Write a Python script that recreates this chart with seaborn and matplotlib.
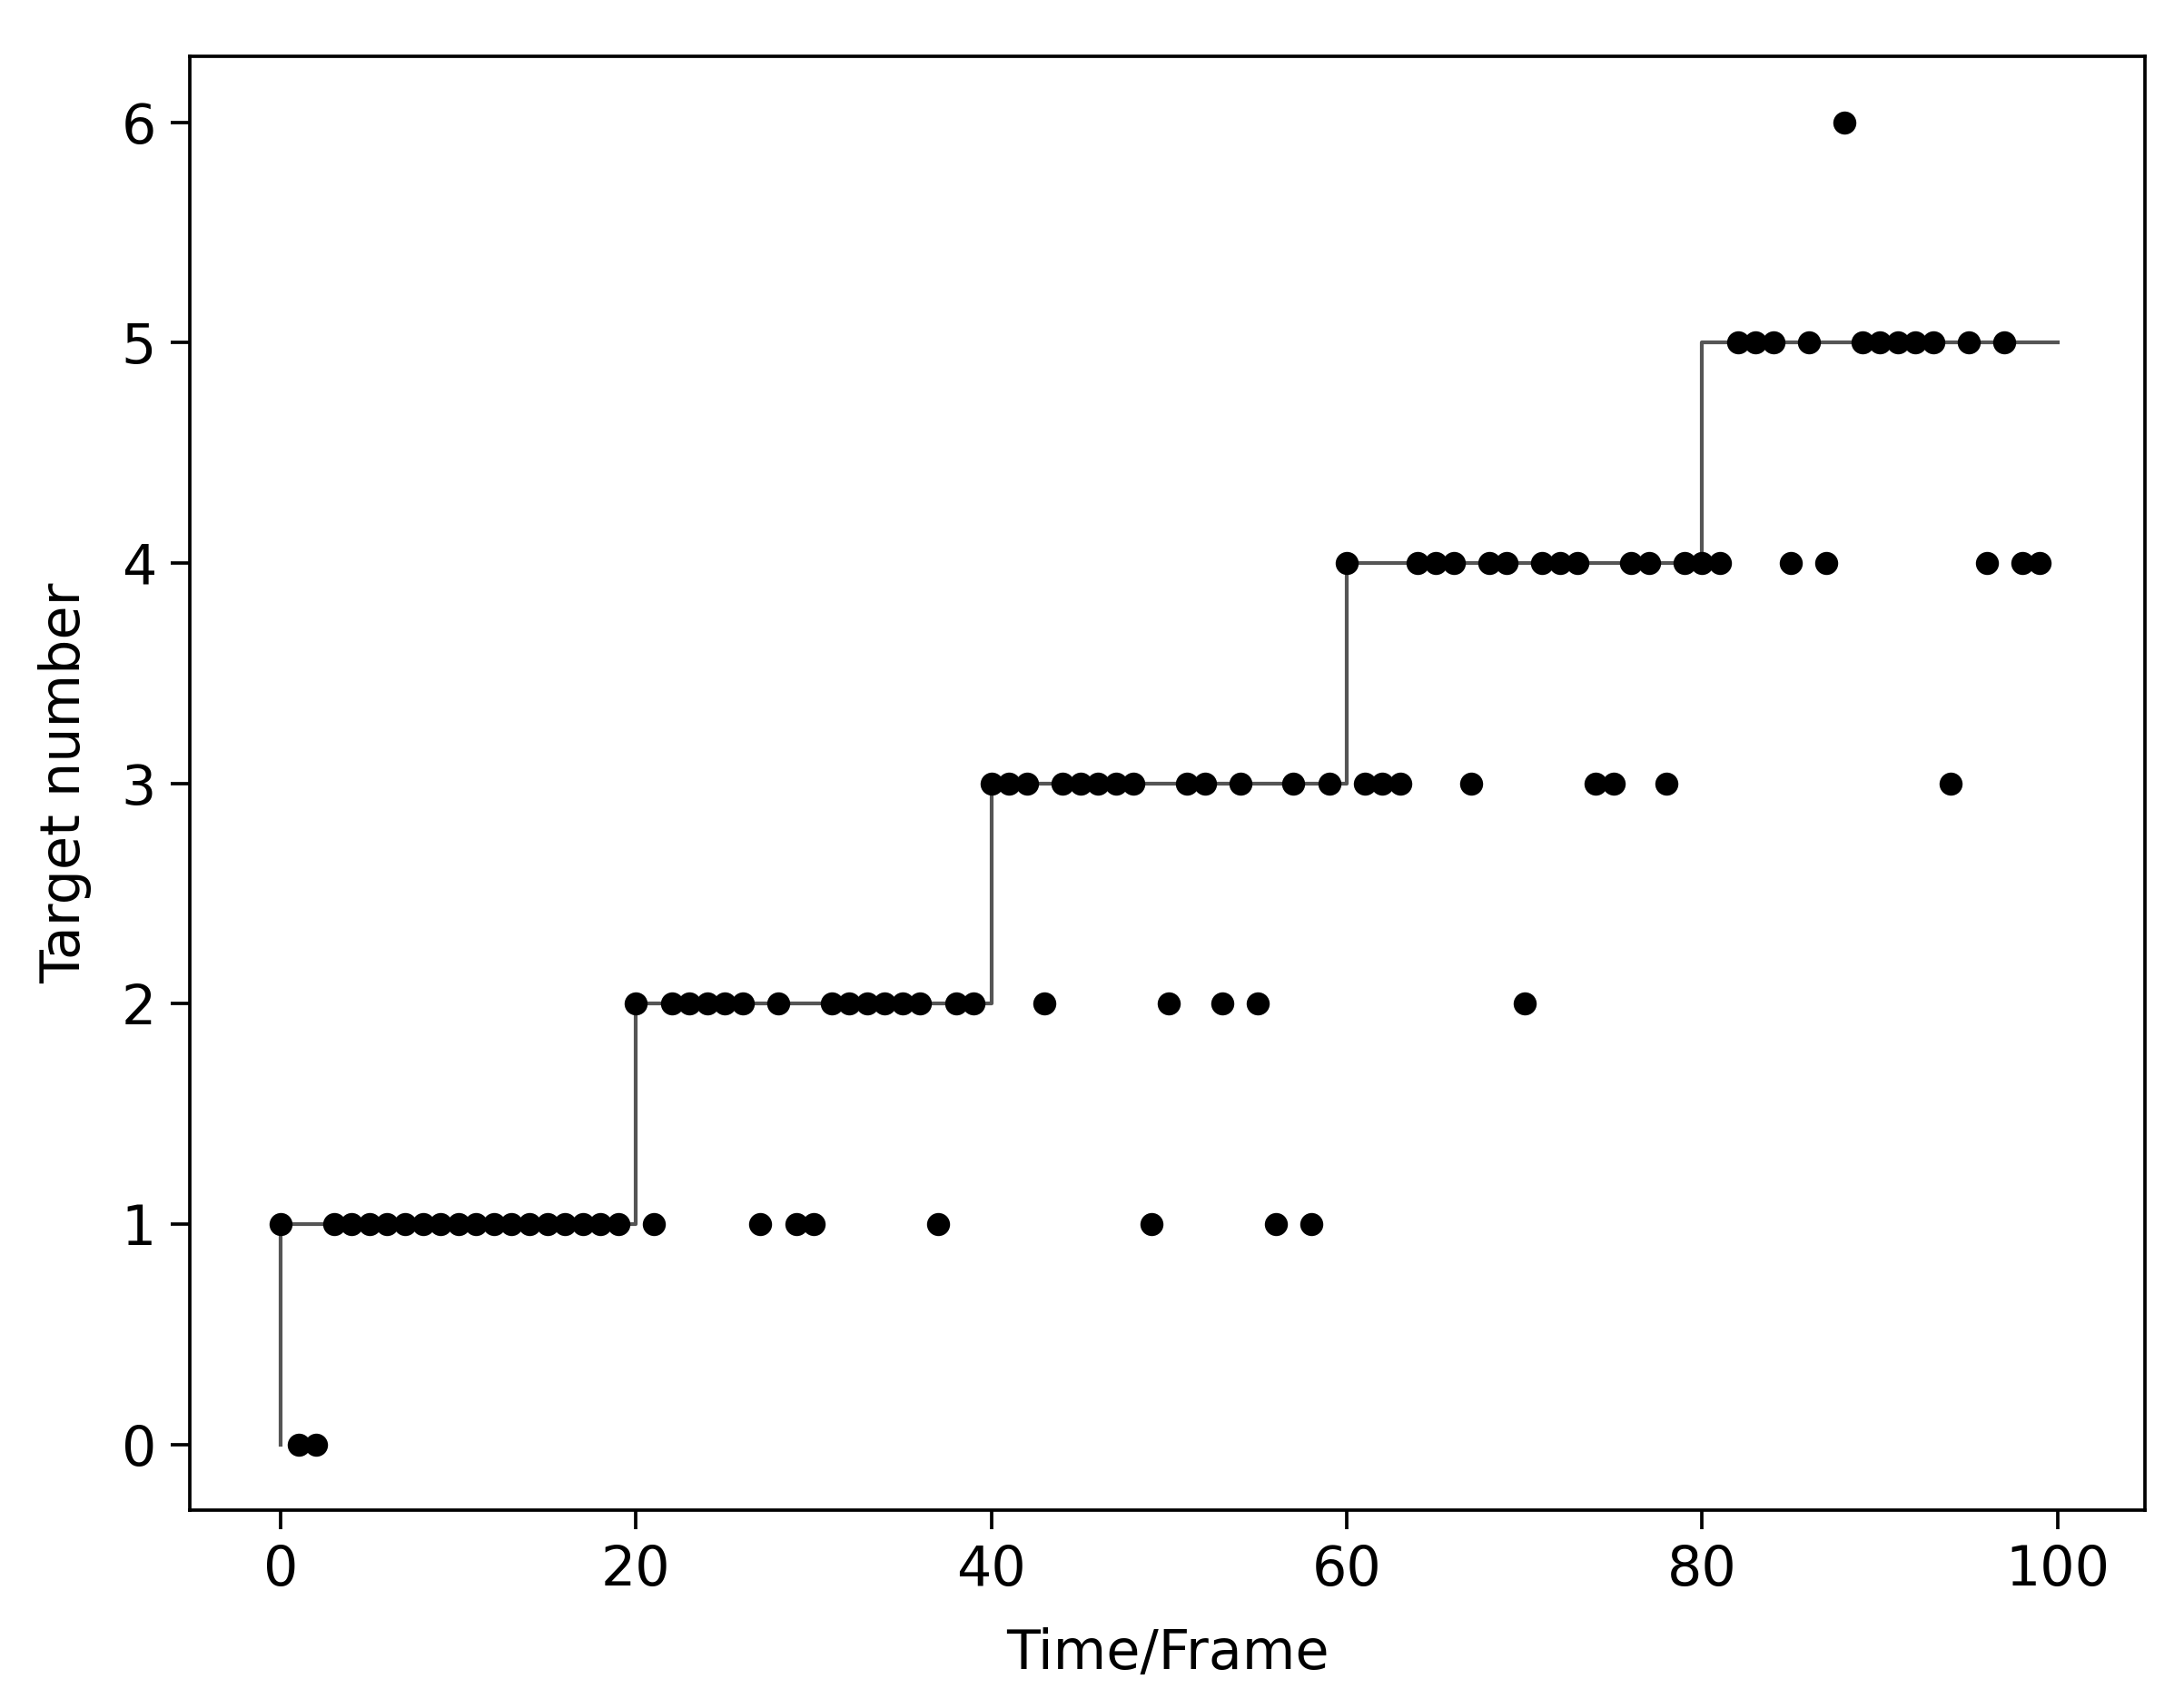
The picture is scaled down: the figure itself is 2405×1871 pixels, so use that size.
import seaborn as sns
import matplotlib.pyplot as plt
import pandas as pd

# estimated target number per frame (frames 0..99)
frames = list(range(100))
estimated = [
    1, 0, 0, 1, 1, 1, 1, 1, 1, 1,        # 0-9
    1, 1, 1, 1, 1, 1, 1, 1, 1, 1,        # 10-19
    2, 1, 2, 2, 2, 2, 2, 1, 2, 1,        # 20-29
    1, 2, 2, 2, 2, 2, 2, 1, 2, 2,        # 30-39
    3, 3, 3, 2, 3, 3, 3, 3, 3, 1,        # 40-49
    2, 3, 3, 2, 3, 2, 1, 3, 1, 3,        # 50-59
    4, 3, 3, 3, 4, 4, 4, 3, 4, 4,        # 60-69
    2, 4, 4, 4, 3, 3, 4, 4, 3, 4,        # 70-79
    4, 4, 5, 5, 5, 4, 5, 4, 6, 5,        # 80-89
    5, 5, 5, 5, 3, 5, 4, 5, 4, 4,        # 90-99
]

# ground truth steps
gt_frames = [0, 0, 20, 40, 60, 80, 100]
gt_counts = [0, 1, 2, 3, 4, 5, 5]

dpi = 334
fig = plt.figure(figsize=(2405 / dpi, 1871 / dpi), dpi=dpi)
ax = fig.add_axes([0.087, 0.111, 0.895, 0.856])

truth = pd.DataFrame({'frame': gt_frames, 'count': gt_counts})
sns.lineplot(data=truth, x='frame', y='count', estimator=None, sort=False,
             drawstyle='steps-post', color='#555555', linewidth=0.9, ax=ax)

est = pd.DataFrame({'frame': frames, 'count': estimated})
sns.scatterplot(data=est, x='frame', y='count', color='black', s=30,
                linewidth=0, ax=ax, zorder=3)

ax.set_xticks([0, 20, 40, 60, 80, 100])
ax.set_yticks([0, 1, 2, 3, 4, 5, 6])
ax.set_xlim(-5.1, 104.9)
ax.set_ylim(-0.3, 6.3)
ax.set_xlabel('Time/Frame', fontsize=13, labelpad=7)
ax.set_ylabel('Target number', fontsize=13, labelpad=7)
ax.tick_params(labelsize=13, length=4.5)

fig.savefig('out.png', dpi=dpi)
